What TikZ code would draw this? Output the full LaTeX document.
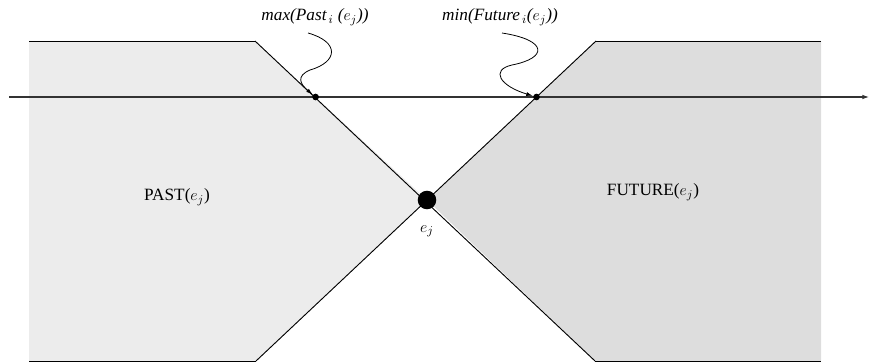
\documentclass[tikz,border=0pt]{standalone}
\usepackage{fontspec}
\setmainfont{Liberation Serif}
\usetikzlibrary{arrows.meta,positioning}
\definecolor{pastgray}{HTML}{ECECEC}
\definecolor{futgray}{HTML}{DDDDDD}
\tikzset{
  dot/.style={circle,fill=black,inner sep=0pt,minimum size=#1},
  region/.style={font=\fontsize{13}{15}\selectfont},
  bound/.style={font=\fontsize{13}{15}\selectfont\itshape},
  pointer/.style={-{Latex[length=5pt,width=3pt]},line width=.6pt}
}
\begin{document}
\begin{tikzpicture}[x=0.0265cm,y=-0.0265cm,line width=.7pt]
\useasboundingbox (0,0) rectangle (869,362);
\fill[pastgray] (29,41)--(255,41)--(427,200)--(256,361)--(29,361)--cycle;
\fill[futgray] (821,41)--(596,41)--(427,200)--(595,361)--(821,361)--cycle;
\coordinate (tl) at (255,41);\coordinate (bl) at (256,361);
\coordinate (tr) at (596,41);\coordinate (br) at (595,361);
\coordinate (axL) at (9,97);\coordinate (axR) at (869,97);
\draw (29,41)--(tl) (tr)--(821,41) (29,361)--(bl) (br)--(821,361);
\draw[-{Latex[length=5pt,width=3.5pt]},line width=.9pt,black!80] (axL)--(axR);
\draw (tl)--(br) (bl)--(tr);
\node[dot=14pt] (ej) at (427,200){};
\node[dot=5pt] (pmax) at (315.6,97){};
\node[dot=5pt] (pmin) at (536.5,97){};
\node[below=8pt of ej,region]{$e_j$};
\node[region] (past) at (177,197){PAST($e_j$)};
\node[region] (fut) at (653,192){FUTURE($e_j$)};
\node[bound] (lmax) at (315,17){max(Past$_{\,i}$ ($e_j$))};
\node[bound] (lmin) at (500,17){min(Future$_{\,i}$($e_j$))};
\draw[pointer] (308,33) .. controls (340,42) and (338,62) .. (310,70) .. controls (296,76) and (300,84) .. (pmax);
\draw[pointer] (502,33) .. controls (548,40) and (548,58) .. (512,65) .. controls (490,70) and (500,86) .. (pmin);
\end{tikzpicture}
\end{document}
